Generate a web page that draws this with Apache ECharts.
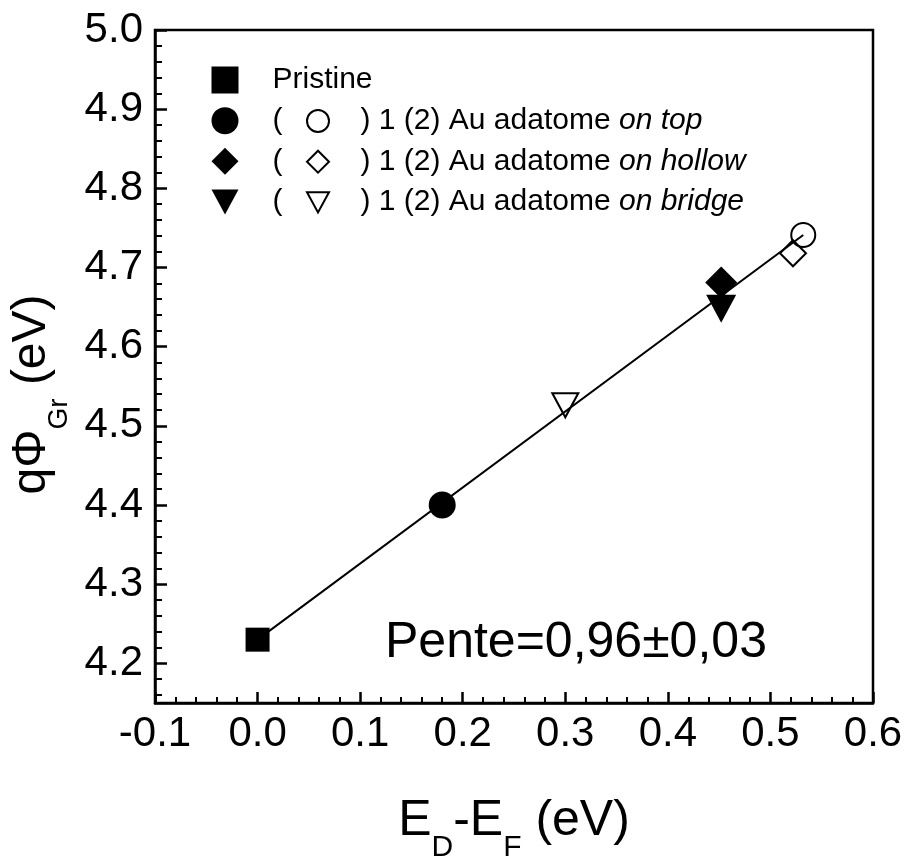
<!DOCTYPE html>
<html>
<head>
<meta charset="utf-8">
<script src="https://cdn.jsdelivr.net/npm/echarts@6/dist/echarts.min.js"></script>
<style>
  html, body { margin: 0; padding: 0; background: #fff; }
  #chart { width: 906px; height: 856px; }
</style>
</head>
<body>
<div id="chart"></div>
<script>
// ---- data ----
const pristine = [[0.0, 4.23]];
const topOne = [[0.18, 4.40]];
const topTwo = [[0.532, 4.741]];
const hollowOne = [[0.452, 4.681]];
const hollowTwo = [[0.522, 4.718]];
const bridgeOne = [[0.452, 4.648]];
const bridgeTwo = [[0.30, 4.526]];
const fitLine = [[0.0, 4.23], [0.532, 4.741]];

const xMin = -0.1, xMax = 0.6, xStep = 0.1;
const yMin = 4.15, yMax = 5.0;
const yMajorTicks = [4.2, 4.3, 4.4, 4.5, 4.6, 4.7, 4.8, 4.9, 5.0];
const yMinorTicks = [4.16, 4.18, 4.22, 4.24, 4.26, 4.28, 4.32, 4.34, 4.36, 4.38,
  4.42, 4.44, 4.46, 4.48, 4.52, 4.54, 4.56, 4.58, 4.62, 4.64, 4.66, 4.68,
  4.72, 4.74, 4.76, 4.78, 4.82, 4.84, 4.86, 4.88, 4.92, 4.94, 4.96, 4.98];

const legendTexts = {
  'Pristine': '{sp| }{t|Pristine}',
  'top1': '{sp| }{t|(}{g| }{t|) 1 (2) Au adatome }{i|on top}',
  'hollow1': '{sp| }{t|(}{g| }{t|) 1 (2) Au adatome }{i|on hollow}',
  'bridge1': '{sp| }{t|(}{g| }{t|) 1 (2) Au adatome }{i|on bridge}'
};
const slopeText = 'Pente=0,96\u00B10,03';

const FONT = 'Liberation Sans, Arial, sans-serif';
const chart = echarts.init(document.getElementById('chart'));

const filled = { color: '#000', opacity: 1 };
const open = { color: 'rgba(0,0,0,0)', borderColor: '#000', borderWidth: 2, opacity: 1 };

const legendRich = {
  sp: { width: 29, fontSize: 30, lineHeight: 30, fontFamily: FONT },
  t: { fontSize: 30, lineHeight: 30, color: '#000', fontFamily: FONT },
  g: { width: 78, fontSize: 30, lineHeight: 30, fontFamily: FONT },
  i: { fontSize: 30, lineHeight: 30, color: '#000', fontStyle: 'italic', fontFamily: FONT }
};

const titleRich = {
  a: { fontSize: 50, fontFamily: FONT, color: '#000', lineHeight: 60, verticalAlign: 'bottom' },
  s: { fontSize: 30, fontFamily: FONT, color: '#000', lineHeight: 30, verticalAlign: 'bottom', padding: [0, 0, -17, 0] }
};
const yTitleRich = {
  a: { fontSize: 48, fontFamily: FONT, color: '#000', lineHeight: 56, verticalAlign: 'bottom' },
  s: { fontSize: 28, fontFamily: FONT, color: '#000', lineHeight: 28, verticalAlign: 'bottom', padding: [0, 0, -18, 0] }
};

chart.setOption({
  animation: false,
  backgroundColor: '#fff',
  grid: { left: 155, right: 33, top: 30, bottom: 153, outerBoundsMode: 'none', containLabel: false,
          show: true, borderColor: '#000', borderWidth: 2.5, backgroundColor: 'transparent' },
  xAxis: {
    type: 'value', min: xMin, max: xMax, interval: xStep,
    name: '{a|E}{s|D}{a|-E}{s|F}{a| (eV)}',
    nameLocation: 'middle', nameGap: 83,
    nameTextStyle: { rich: titleRich },
    axisLine: { onZero: false, lineStyle: { color: '#000', width: 2.5 } },
    axisTick: { inside: true, length: 11, lineStyle: { color: '#000', width: 2.5 } },
    minorTick: { show: true, splitNumber: 5, length: 6, lineStyle: { color: '#000', width: 2 } },
    splitLine: { show: false },
    axisLabel: { fontSize: 42, fontFamily: FONT, color: '#000', margin: 10, formatter: v => v.toFixed(1) }
  },
  yAxis: [{
    type: 'value', min: yMin, max: yMax,
    name: '{a|q\u03A6}{s|Gr}{a| (eV)}',
    nameLocation: 'middle', nameGap: 80,
    nameTextStyle: { padding: [0, 56, 0, 0], rich: yTitleRich },
    axisLine: { show: true, onZero: false, lineStyle: { color: '#000', width: 2.5 } },
    axisTick: { inside: true, length: 12, customValues: yMajorTicks, lineStyle: { color: '#000', width: 2.5 } },
    splitLine: { show: false },
    axisLabel: { customValues: yMajorTicks, fontSize: 42, fontFamily: FONT, color: '#000', margin: 12, formatter: v => v.toFixed(1) }
  }, {
    type: 'value', min: yMin, max: yMax, position: 'left', offset: 0,
    axisLine: { show: false, onZero: false },
    axisTick: { show: true, inside: true, length: 7, customValues: yMinorTicks, lineStyle: { color: '#000', width: 2 } },
    axisLabel: { show: false },
    splitLine: { show: false }
  }],
  legend: [{
    data: [
      { name: 'Pristine' }, { name: 'top1' }, { name: 'hollow1' },
      { name: 'bridge1', icon: 'path://M0,0L28,0L14,26Z' }
    ],
    orient: 'vertical', left: 206.5, top: 60, itemWidth: 27, itemHeight: 27, itemGap: 10.67,
    selectedMode: false,
    formatter: n => legendTexts[n],
    textStyle: { fontSize: 30, lineHeight: 30, color: '#000', fontFamily: FONT, rich: legendRich }
  }, {
    data: [
      { name: 'top2' }, { name: 'hollow2' },
      { name: 'bridge2', icon: 'path://M0,0L24,0L12,22Z' }
    ],
    orient: 'vertical', left: 301, top: 101, itemWidth: 22, itemHeight: 22, itemGap: 10.67,
    selectedMode: false,
    formatter: () => ' ',
    textStyle: { fontSize: 30, lineHeight: 30, color: '#000', fontFamily: FONT }
  }],
  graphic: [{
    type: 'text', left: 385, top: 618,
    style: { text: slopeText, fontSize: 50, fontFamily: FONT, fill: '#000' }
  }],
  series: [
    { name: 'fit', type: 'line', data: fitLine, showSymbol: false, symbol: 'none', lineStyle: { color: '#000', width: 2 }, z: 1, silent: true },
    { name: 'Pristine', type: 'scatter', data: pristine, symbol: 'rect', symbolSize: 24, itemStyle: filled, z: 5 },
    { name: 'top1', type: 'scatter', data: topOne, symbol: 'circle', symbolSize: 27, itemStyle: filled, z: 5 },
    { name: 'top2', type: 'scatter', data: topTwo, symbol: 'circle', symbolSize: 24, itemStyle: open, z: 5 },
    { name: 'hollow1', type: 'scatter', data: hollowOne, symbol: 'diamond', symbolSize: 32, itemStyle: filled, z: 5 },
    { name: 'hollow2', type: 'scatter', data: hollowTwo, symbol: 'diamond', symbolSize: 26, itemStyle: open, z: 5 },
    { name: 'bridge1', type: 'scatter', data: bridgeOne, symbol: 'triangle', symbolRotate: 180, symbolSize: [30, 28], itemStyle: filled, z: 5 },
    { name: 'bridge2', type: 'scatter', data: bridgeTwo, symbol: 'triangle', symbolRotate: 180, symbolSize: [26, 24], itemStyle: open, z: 5 }
  ]
});
</script>
</body>
</html>
